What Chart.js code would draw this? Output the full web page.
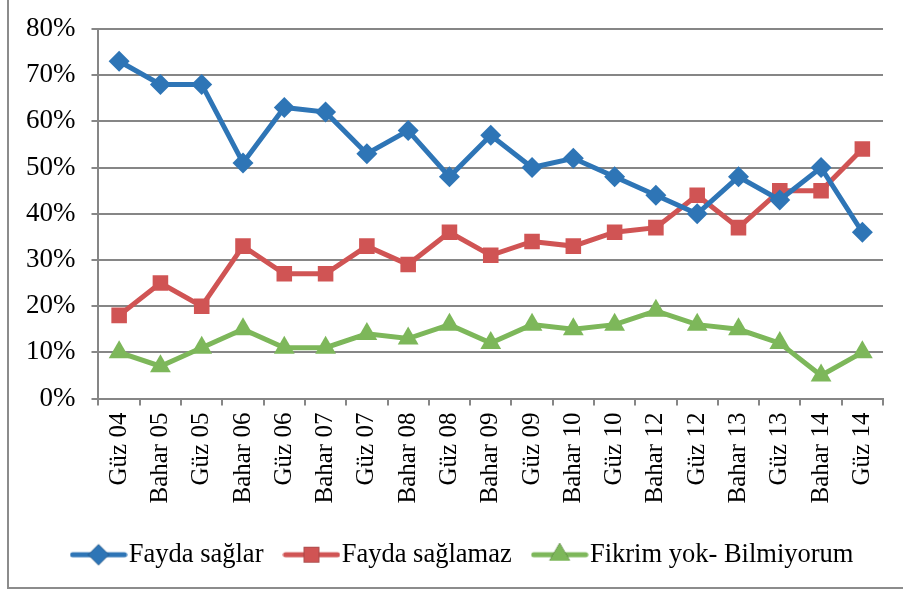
<!DOCTYPE html>
<html>
<head>
<meta charset="utf-8">
<script src="https://cdn.jsdelivr.net/npm/chart.js@4"></script>
<style>
body{margin:0;background:#fff}
#wrap{position:relative;width:903px;height:591px;overflow:hidden}
#frame{position:absolute;left:7px;top:-3px;width:930px;height:592px;border-left:2px solid #8c8c8c;border-bottom:2px solid #8c8c8c;box-sizing:border-box}
#c{position:absolute;left:0;top:0}
</style>
</head>
<body>
<div id="wrap">
  <div id="frame"></div>
  <canvas id="c" width="903" height="591"></canvas>
</div>
<script>
let donemler = ['Güz 04','Bahar 05','Güz 05','Bahar 06','Güz 06','Bahar 07','Güz 07','Bahar 08','Güz 08','Bahar 09','Güz 09','Bahar 10','Güz 10','Bahar 12','Güz 12','Bahar 13','Güz 13','Bahar 14','Güz 14']
let faydaSaglar = [73, 68, 68, 51, 63, 62, 53, 58, 48, 57, 50, 52, 48, 44, 40, 48, 43, 50, 36]
let faydaSaglamaz = [18, 25, 20, 33, 27, 27, 33, 29, 36, 31, 34, 33, 36, 37, 44, 37, 45, 45, 54]
let fikrimYok = [10, 7, 11, 15, 11, 11, 14, 13, 16, 12, 16, 15, 16, 19, 16, 15, 12, 5, 10]
let yTicks = [0, 10, 20, 30, 40, 50, 60, 70, 80]

const FONT = "Liberation Serif"
const gray = '#868686'
Chart.defaults.font.family = FONT
Chart.defaults.color = '#000'

// legend icon: line with marker in the middle
function legendIcon(color, style, r){
    let cv = document.createElement('canvas')
    cv.width = 58; cv.height = 24
    let cx = cv.getContext('2d')
    cx.strokeStyle = color
    cx.lineWidth = 5
    cx.lineCap = 'round'
    cx.beginPath(); cx.moveTo(3, 12); cx.lineTo(55, 12); cx.stroke()
    Chart.helpers.drawPoint(cx, {pointStyle: style, radius: r, rotation: 0, borderWidth: 0}, 29, 12)
    cx.fillStyle = color
    cx.fill()
    return cv
}

let series = [
    {label: 'Fayda sağlar', data: faydaSaglar, color: '#2e75b6', style: 'rectRot', r: 10.5},
    {label: 'Fayda sağlamaz', data: faydaSaglamaz, color: '#d05454', style: 'rect', r: 11},
    {label: 'Fikrim yok- Bilmiyorum', data: fikrimYok, color: '#7db75a', style: 'triangle', r: 12}
]

let chartData = {
    labels: donemler,
    datasets: series.map(s => ({
        label: s.label,
        data: s.data,
        borderColor: s.color,
        backgroundColor: s.color,
        borderWidth: 5,
        pointStyle: s.style,
        pointRadius: s.r,
        pointBorderWidth: 0,
        pointBackgroundColor: s.color,
        tension: 0
    }))
}

let icons = series.map(s => legendIcon(s.color, s.style, s.r))

// legend is a bit right of centre in the original
let legendShift = {
    id: 'legendShift',
    afterLayout(chart){
        chart.legend.left += 21
        chart.legend.right += 21
    }
}

let ctx = document.getElementById('c').getContext('2d')
let myChart = new Chart(ctx, {
    type: 'line',
    data: chartData,
    plugins: [legendShift],
    options: {
        responsive: false,
        animation: false,
        layout: {padding: {left: 10, right: 20, top: 0, bottom: 13}},
        plugins: {
            tooltip: {enabled: false},
            legend: {
                position: 'bottom',
                labels: {
                    usePointStyle: true,
                    pointStyleWidth: 34,
                    boxHeight: 24,
                    padding: 31,
                    color: '#000',
                    font: {family: FONT, size: 26.5},
                    generateLabels: chart => chart.data.datasets.map((d, i) => ({
                        text: d.label,
                        pointStyle: icons[i],
                        fillStyle: d.borderColor,
                        strokeStyle: d.borderColor,
                        lineWidth: 0,
                        datasetIndex: i,
                        fontColor: '#000'
                    }))
                }
            }
        },
        scales: {
            x: {
                offset: true,
                grid: {drawOnChartArea: false, offset: true, tickLength: 7, color: gray, lineWidth: 2},
                border: {color: gray, width: 2},
                ticks: {
                    autoSkip: false, minRotation: 90, maxRotation: 90, padding: 7,
                    color: '#000', font: {family: FONT, size: 25}
                }
            },
            y: {
                min: 0, max: 80,
                afterBuildTicks: axis => { axis.ticks = yTicks.map(v => ({value: v})) },
                grid: {color: gray, lineWidth: 2, tickLength: 7},
                border: {color: gray, width: 2},
                ticks: {
                    padding: 16, color: '#000', font: {family: FONT, size: 27, lineHeight: 0.96},
                    callback: v => v + '%'
                }
            }
        }
    }
})
</script>
</body>
</html>
